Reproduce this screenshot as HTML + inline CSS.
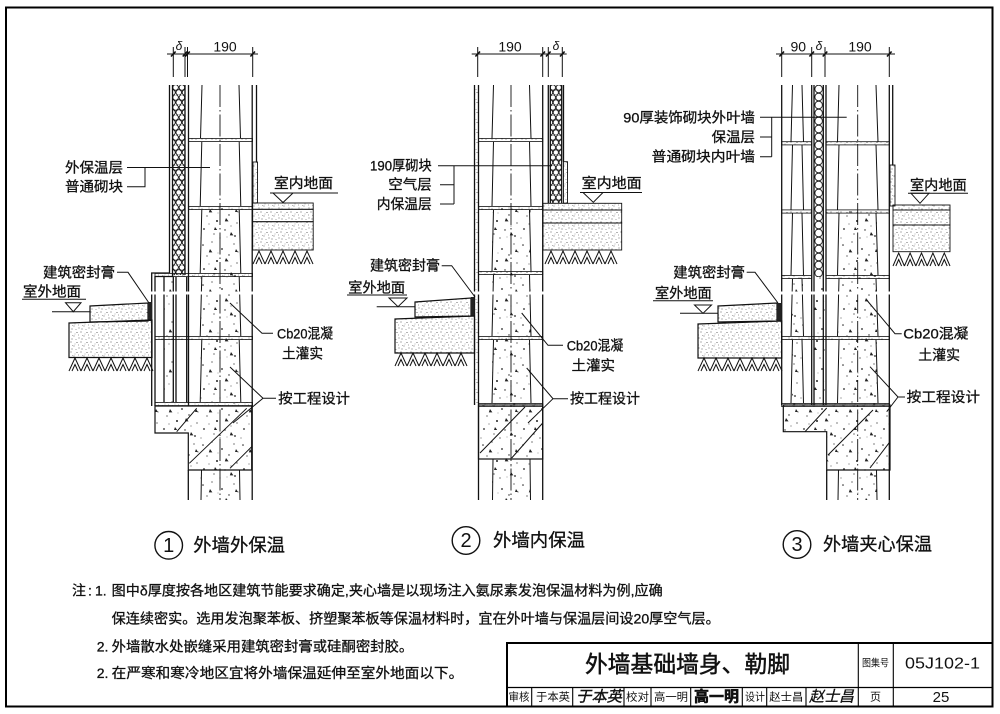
<!DOCTYPE html>
<html><head><meta charset="utf-8"><style>
html,body{margin:0;padding:0;background:#fff;}
svg{display:block;}
text{font-family:"Liberation Sans","Noto Sans CJK SC",sans-serif;fill:#111;}
.b text,.b{stroke:#111;stroke-width:.3;}
.l{stroke:#111;stroke-width:1.3;fill:none;}
.t{stroke:#111;stroke-width:1;fill:none;}
.j{fill:url(#apr);stroke:#111;stroke-width:.8;}
.dd{stroke:#111;stroke-width:.9;fill:none;stroke-dasharray:22 3 1.5 3;}
.tk{stroke:#111;stroke-width:1.6;fill:none;}
</style></head><body>
<svg width="1000" height="714" viewBox="0 0 1000 714" xmlns="http://www.w3.org/2000/svg">
<defs>
<pattern id="conc" width="40" height="40" patternUnits="userSpaceOnUse">
<g fill="#222">
<circle cx="3" cy="5" r=".8"/><circle cx="12" cy="2" r=".6"/><circle cx="22" cy="9" r=".9"/><circle cx="34" cy="4" r=".6"/><circle cx="7" cy="16" r=".6"/><circle cx="17" cy="21" r="1"/><circle cx="29" cy="15" r=".7"/><circle cx="37" cy="23" r=".6"/><circle cx="4" cy="29" r=".9"/><circle cx="14" cy="34" r=".6"/><circle cx="25" cy="30" r=".7"/><circle cx="35" cy="36" r=".9"/><circle cx="20" cy="38" r=".6"/><circle cx="9" cy="24" r=".5"/><circle cx="31" cy="26" r=".5"/><circle cx="38" cy="12" r=".5"/><circle cx="1" cy="38" r=".5"/><circle cx="18" cy="13" r=".4"/><circle cx="27" cy="37" r=".4"/>
<path d="M26 18l2.6 3.4h-3.8z M10 9l2.4 3.4h-3.6z M31 32l2.4 3.4h-3.6z M15 27l2.2 3h-3.2z M36 9l2 3h-3z"/>
</g></pattern>
<pattern id="apr" width="10" height="10" patternUnits="userSpaceOnUse">
<g fill="#333"><circle cx="1" cy="2" r=".5"/><circle cx="4" cy="6" r=".45"/><circle cx="7" cy="2.5" r=".5"/><circle cx="9" cy="8" r=".45"/><circle cx="2" cy="9" r=".5"/><circle cx="6" cy="9.5" r=".4"/><circle cx="5" cy="4" r=".35"/><circle cx="8.5" cy="5" r=".4"/><circle cx="2.5" cy="5.5" r=".35"/></g>
</pattern>
<pattern id="hex1" x="172.5" y="85" width="12.5" height="10" patternUnits="userSpaceOnUse"><g fill="none" stroke="#111" stroke-width=".9"><circle cx="3.1" cy="2.5" r="2.8"/><circle cx="9.4" cy="2.5" r="2.8"/><circle cx="0" cy="7.5" r="2.8"/><circle cx="6.25" cy="7.5" r="2.8"/><circle cx="12.5" cy="7.5" r="2.8"/></g></pattern>
<pattern id="hex2" x="550" y="85" width="11.7" height="10" patternUnits="userSpaceOnUse"><g fill="none" stroke="#111" stroke-width=".9"><circle cx="2.9" cy="2.5" r="2.7"/><circle cx="8.8" cy="2.5" r="2.7"/><circle cx="0" cy="7.5" r="2.7"/><circle cx="5.85" cy="7.5" r="2.7"/><circle cx="11.7" cy="7.5" r="2.7"/></g></pattern>
<pattern id="hex3" x="814" y="85" width="9.3" height="8" patternUnits="userSpaceOnUse"><circle cx="4.65" cy="4" r="3.8" fill="none" stroke="#111" stroke-width=".9"/></pattern>
</defs>

<!-- frame -->
<rect x="6" y="7.5" width="986.5" height="699" fill="none" stroke="#000" stroke-width="2"/>

<!-- ================= DIAGRAM 1 ================= -->
<g class="t"><line x1="167" y1="54" x2="258" y2="54"/><path d="M173.3 47V77M185 47V77M187.5 47V77M252.7 47V77"/></g>
<path class="tk" d="M171 56.5L175.6 51.5M182.7 56.5L187.3 51.5M185.2 56.5L189.8 51.5M250.4 56.5L255 51.5"/>
<text x="179" y="46" font-size="12" font-style="italic" text-anchor="middle" dominant-baseline="central">δ</text>
<text x="225" y="46.7" font-size="14" text-anchor="middle" dominant-baseline="central">190</text>

<rect x="172.5" y="85" width="12.5" height="190" fill="url(#hex1)"/>
<rect x="200.5" y="208" width="40" height="196" fill="url(#conc)"/>
<rect x="200.5" y="470" width="40" height="30" fill="url(#conc)"/>
<rect x="164" y="276" width="9.3" height="128" fill="url(#conc)"/>
<path d="M155 406H251.7V470H188.3V433H155Z" fill="url(#conc)" stroke="#111" stroke-width="1.2"/>
<path class="t" d="M176.7 431.7L196.7 408.3M189.3 463.3L246.7 408.3M230 468.3L251.7 446.7"/>
<rect x="253" y="162" width="4.5" height="41" fill="url(#apr)" stroke="#111" stroke-width=".9"/>
<rect x="252.7" y="203" width="60.5" height="6.3" fill="url(#apr)" stroke="#111" stroke-width=".9"/>
<rect x="252.7" y="209.3" width="60.5" height="12.4" fill="url(#apr)" stroke="#111" stroke-width=".9"/>
<rect x="252.7" y="221.7" width="60.5" height="28.3" fill="url(#apr)" stroke="#111" stroke-width=".9"/>
<path class="t" d="M253 264l6-13l6 13m-9 0l3-6.5l3 6.5m3 0l6-13l6 13m-9 0l3-6.5l3 6.5m3 0l6-13l6 13m-9 0l3-6.5l3 6.5m3 0l6-13l6 13m-9 0l3-6.5l3 6.5m3 0l6-13l6 13m-9 0l3-6.5l3 6.5m3 0"/>

<g class="l">
<path d="M169.5 85V273H151.7V406"/>
<path d="M172.5 85V276.5H155V406"/>
<path d="M185 85V275"/>
<path d="M188.5 85V406M188.3 470V500"/>
<path d="M252.2 85V500"/>
<path d="M256.5 85V162"/>
<path d="M164 276.6V402.4M173.3 276.6V402.4M176 276.6V402.4M186.7 276.6V402.4"/>
</g>
<path class="t" d="M202 85L200.5 138.4M201.8 141.6L200.2 206.4M201.8 209.6L200.2 273.4M201.8 276.6L200.2 336.4M201.8 339.6L200.2 402.4M201.5 470L201 500M239 85L240.5 138.4M239.2 141.6L240.8 206.4M239.2 209.6L240.8 273.4M239.2 276.6L240.8 336.4M239.2 339.6L240.8 402.4M239.5 470L240 500"/>
<line class="dd" x1="220" y1="85" x2="220" y2="500"/>
<rect class="j" x="188.5" y="138.4" width="64" height="3.2"/>
<rect class="j" x="188.5" y="206.4" width="64" height="3.2"/>
<rect class="j" x="155" y="273.4" width="97.5" height="3.2"/>
<rect class="j" x="155" y="336.4" width="97.5" height="3.2"/>
<rect class="j" x="155" y="402.4" width="97.5" height="3.2"/>
<rect x="149" y="291.5" width="110" height="3" fill="#fff"/>

<path d="M90 306L148 303V321L90 322Z" fill="url(#apr)" stroke="#111" stroke-width="1.2"/>
<rect x="148" y="302" width="4" height="19" fill="#222"/>
<path d="M69 323L152 320V357.5H69Z" fill="url(#apr)" stroke="#111" stroke-width="1.2"/>
<path class="t" d="M69 371l6-13l6 13m-9 0l3-6.5l3 6.5m3 0l6-13l6 13m-9 0l3-6.5l3 6.5m3 0l6-13l6 13m-9 0l3-6.5l3 6.5m3 0l6-13l6 13m-9 0l3-6.5l3 6.5m3 0l6-13l6 13m-9 0l3-6.5l3 6.5m3 0l6-13l6 13m-9 0l3-6.5l3 6.5m3 0l6-13l6 13m-9 0l3-6.5l3 6.5m3 0"/>
<g class="t"><path d="M52 311.7H90"/><path d="M65.5 302.7H81L73.3 311.7Z"/><path d="M22 299.3H86"/>
<path d="M270 193H338"/><path d="M273 193H293L283 202.5Z"/></g>

<g class="t">
<path d="M127 167.5H210M127 186.7H145V167.5"/>
<path d="M117 272.3H128L149 303"/>
<path d="M273 333.3H262L230 303"/>
<path d="M276 398.3H263L230 367M263 398.3L233 423"/>
</g>
<g class="b" font-size="14" dominant-baseline="central">
<text x="65" y="167.5" textLength="58" lengthAdjust="spacingAndGlyphs">外保温层</text>
<text x="65" y="186.7" textLength="58" lengthAdjust="spacingAndGlyphs">普通砌块</text>
<text x="274" y="183" textLength="59" lengthAdjust="spacingAndGlyphs">室内地面</text>
<text x="43" y="272.3" textLength="72" lengthAdjust="spacingAndGlyphs">建筑密封膏</text>
<text x="23" y="291.5" textLength="58" lengthAdjust="spacingAndGlyphs">室外地面</text>
<text x="277" y="333.3" textLength="56" lengthAdjust="spacingAndGlyphs">Cb20混凝</text>
<text x="282" y="353.7" textLength="41" lengthAdjust="spacingAndGlyphs">土灌实</text>
<text x="278.3" y="398.3" textLength="71.7" lengthAdjust="spacingAndGlyphs">按工程设计</text>
</g>

<!-- ================= DIAGRAM 2 ================= -->
<g class="t"><line x1="471.7" y1="54" x2="566.7" y2="54"/><path d="M477.7 47V77M542.7 47V77M548.3 47V77M562.3 47V77"/></g>
<path class="tk" d="M475.4 56.5L480 51.5M540.4 56.5L545 51.5M546 56.5L550.6 51.5M560 56.5L564.6 51.5"/>
<text x="510" y="46.7" font-size="14" text-anchor="middle" dominant-baseline="central">190</text>
<text x="556" y="46" font-size="12" font-style="italic" text-anchor="middle" dominant-baseline="central">δ</text>

<rect x="474.5" y="85" width="4" height="320" fill="url(#apr)"/>
<rect x="550" y="85" width="11.7" height="118" fill="url(#hex2)"/>
<rect x="492" y="208" width="38.5" height="197" fill="url(#conc)"/>
<rect x="492" y="459" width="38.5" height="41" fill="url(#conc)"/>
<rect x="478.5" y="405" width="64.2" height="54" fill="url(#conc)" stroke="#111" stroke-width="1.2"/>
<path class="t" d="M480 453L525 407M511.7 458L542.7 423"/>
<rect x="563.5" y="161.7" width="4" height="41.5" fill="url(#apr)" stroke="#111" stroke-width=".9"/>
<rect x="543" y="203.3" width="78.7" height="6.7" fill="url(#apr)" stroke="#111" stroke-width=".9"/>
<rect x="543" y="210" width="78.7" height="13" fill="url(#apr)" stroke="#111" stroke-width=".9"/>
<rect x="543" y="223" width="78.7" height="27" fill="url(#apr)" stroke="#111" stroke-width=".9"/>
<path class="t" d="M545 264l6-13l6 13m-9 0l3-6.5l3 6.5m3 0l6-13l6 13m-9 0l3-6.5l3 6.5m3 0l6-13l6 13m-9 0l3-6.5l3 6.5m3 0l6-13l6 13m-9 0l3-6.5l3 6.5m3 0l6-13l6 13m-9 0l3-6.5l3 6.5m3 0l6-13l6 13m-9 0l3-6.5l3 6.5m3 0"/>

<g class="l">
<path d="M474.5 85V405"/>
<path d="M478.5 85V500"/>
<path d="M542.7 85V500"/>
<path d="M548.3 85V203"/>
<path d="M550.3 85V203M561.7 85V203"/>
<path d="M563.5 85V161.7"/>
</g>
<path class="t" d="M493.5 85L492 138.4M493.5 141.6L492 206.4M493.5 209.6L492 271.4M493.5 274.6L492 336.4M493.5 339.6L492 403.4M493 459L492.5 500M529.5 85L531 138.4M529.5 141.6L531 206.4M529.5 209.6L531 271.4M529.5 274.6L531 336.4M529.5 339.6L531 403.4M530 459L530.5 500"/>
<line class="dd" x1="511" y1="85" x2="511" y2="500"/>
<rect class="j" x="478.5" y="138.4" width="64.2" height="3.2"/>
<rect class="j" x="478.5" y="206.4" width="64.2" height="3.2"/>
<rect class="j" x="478.5" y="271.4" width="64.2" height="3.2"/>
<rect class="j" x="478.5" y="336.4" width="64.2" height="3.2"/>
<rect class="j" x="478.5" y="403.4" width="64.2" height="3.2"/>
<rect x="472" y="291.5" width="74" height="3" fill="#fff"/>

<path d="M415 302L471 298V316L415 317Z" fill="url(#apr)" stroke="#111" stroke-width="1.2"/>
<rect x="471" y="297" width="3.5" height="18.5" fill="#222"/>
<path d="M395 319L474.5 316V353H395Z" fill="url(#apr)" stroke="#111" stroke-width="1.2"/>
<path class="t" d="M395 366l6-13l6 13m-9 0l3-6.5l3 6.5m3 0l6-13l6 13m-9 0l3-6.5l3 6.5m3 0l6-13l6 13m-9 0l3-6.5l3 6.5m3 0l6-13l6 13m-9 0l3-6.5l3 6.5m3 0l6-13l6 13m-9 0l3-6.5l3 6.5m3 0l6-13l6 13m-9 0l3-6.5l3 6.5m3 0"/>
<g class="t"><path d="M376.7 306.7H415"/><path d="M389 298H407L398 306.7Z"/><path d="M347 295H407"/>
<path d="M580 192.5H642"/><path d="M583 192.5H603L593.3 202.3Z"/></g>

<g class="t">
<path d="M438 165.7H552"/>
<path d="M440 184.7H454M440 204H454M454 165.7V204"/>
<path d="M441.7 265.7H451.7L475 297"/>
<path d="M563 345.3H548L521.7 313"/>
<path d="M568 398.7H553L526.7 368M553 398.7L528 423"/>
</g>
<g class="b" font-size="14" dominant-baseline="central">
<text x="370" y="165.7" textLength="61.7" lengthAdjust="spacingAndGlyphs">190厚砌块</text>
<text x="388.3" y="184.7" textLength="43.4" lengthAdjust="spacingAndGlyphs">空气层</text>
<text x="376.7" y="204" textLength="55" lengthAdjust="spacingAndGlyphs">内保温层</text>
<text x="581.7" y="183" textLength="60" lengthAdjust="spacingAndGlyphs">室内地面</text>
<text x="370" y="265.7" textLength="70" lengthAdjust="spacingAndGlyphs">建筑密封膏</text>
<text x="348.3" y="287.3" textLength="56.7" lengthAdjust="spacingAndGlyphs">室外地面</text>
<text x="566.7" y="345.3" textLength="56.6" lengthAdjust="spacingAndGlyphs">Cb20混凝</text>
<text x="571.7" y="365.3" textLength="43.3" lengthAdjust="spacingAndGlyphs">土灌实</text>
<text x="570" y="398.7" textLength="70" lengthAdjust="spacingAndGlyphs">按工程设计</text>
</g>

<!-- ================= DIAGRAM 3 ================= -->
<g class="t"><line x1="776" y1="54" x2="895" y2="54"/><path d="M781.7 47V77M811.7 47V77M825 47V77M889.3 47V77"/></g>
<path class="tk" d="M779.4 56.5L784 51.5M809.4 56.5L814 51.5M822.7 56.5L827.3 51.5M887 56.5L891.6 51.5"/>
<text x="798.3" y="46.7" font-size="14" text-anchor="middle" dominant-baseline="central">90</text>
<text x="819" y="46" font-size="12" font-style="italic" text-anchor="middle" dominant-baseline="central">δ</text>
<text x="860" y="46.7" font-size="14" text-anchor="middle" dominant-baseline="central">190</text>

<rect x="814" y="85" width="9.3" height="192" fill="url(#hex3)"/>
<rect x="813" y="277" width="12" height="128" fill="url(#conc)"/>
<rect x="792" y="277" width="11" height="128" fill="url(#conc)"/>
<rect x="838" y="211.5" width="39" height="193.5" fill="url(#conc)"/>
<rect x="838" y="470" width="39" height="30" fill="url(#conc)"/>
<path d="M783.3 405H890V470H826.7V431.7H783.3Z" fill="url(#conc)" stroke="#111" stroke-width="1.2"/>
<path class="t" d="M805 431.7L826.7 408M828 455L873 410M870 468L890 441.7"/>
<rect x="890" y="165" width="5" height="41" fill="url(#apr)" stroke="#111" stroke-width=".9"/>
<rect x="893" y="205" width="57" height="5" fill="url(#apr)" stroke="#111" stroke-width=".9"/>
<rect x="893" y="210" width="57" height="15" fill="url(#apr)" stroke="#111" stroke-width=".9"/>
<rect x="893" y="225" width="57" height="26.7" fill="url(#apr)" stroke="#111" stroke-width=".9"/>
<path class="t" d="M893 266l5.7-13l5.7 13m-8.55 0l2.85-6.5l2.85 6.5m2.85 0l5.7-13l5.7 13m-8.55 0l2.85-6.5l2.85 6.5m2.85 0l5.7-13l5.7 13m-8.55 0l2.85-6.5l2.85 6.5m2.85 0l5.7-13l5.7 13m-8.55 0l2.85-6.5l2.85 6.5m2.85 0l5.7-13l5.7 13m-8.55 0l2.85-6.5l2.85 6.5m2.85 0"/>

<g class="l">
<path d="M781.7 85V405"/>
<path d="M811.7 85V405"/>
<path d="M814 85V405M823.3 85V405"/>
<path d="M826 85V405M826.7 470V500"/>
<path d="M889.3 85V500"/>
<path d="M892.7 85V165"/>
</g>
<path class="t" d="M792.5 85L791 141.7M792.5 144.9L791 209.9M792.5 213.1L791 275.4M792.5 278.6L791 336.4M792.5 339.6L791 403.4M802 85L803.5 141.7M802 144.9L803.5 209.9M802 213.1L803.5 275.4M802 278.6L803.5 336.4M802 339.6L803.5 403.4"/>
<path class="t" d="M839 85L837.5 141.7M839 144.9L837.5 209.9M839 213.1L837.5 275.4M839 278.6L837.5 336.4M839 339.6L837.5 403.4M838.5 470L838 500M876 85L878 141.7M876 144.9L878 209.9M876 213.1L878 275.4M876 278.6L878 336.4M876 339.6L878 403.4M876.5 470L877 500"/>
<line class="dd" x1="857.7" y1="85" x2="857.7" y2="500"/>
<rect class="j" x="781.7" y="141.7" width="30" height="3.2"/><rect class="j" x="826" y="141.7" width="63.3" height="3.2"/>
<rect class="j" x="781.7" y="209.9" width="30" height="3.2"/><rect class="j" x="826" y="209.9" width="63.3" height="3.2"/>
<rect class="j" x="781.7" y="275.4" width="30" height="3.2"/><rect class="j" x="826" y="275.4" width="63.3" height="3.2"/>
<rect class="j" x="781.7" y="336.4" width="107.6" height="3.2"/>
<rect class="j" x="781.7" y="403.4" width="107.6" height="3.2"/>
<rect x="779" y="291.5" width="113" height="3" fill="#fff"/>

<path d="M718 306L777 303V321L718 322Z" fill="url(#apr)" stroke="#111" stroke-width="1.2"/>
<rect x="777" y="303" width="4.7" height="17.5" fill="#222"/>
<path d="M698 324L781.7 321V358H698Z" fill="url(#apr)" stroke="#111" stroke-width="1.2"/>
<path class="t" d="M698 371l6-13l6 13m-9 0l3-6.5l3 6.5m3 0l6-13l6 13m-9 0l3-6.5l3 6.5m3 0l6-13l6 13m-9 0l3-6.5l3 6.5m3 0l6-13l6 13m-9 0l3-6.5l3 6.5m3 0l6-13l6 13m-9 0l3-6.5l3 6.5m3 0l6-13l6 13m-9 0l3-6.5l3 6.5m3 0l6-13l6 13m-9 0l3-6.5l3 6.5m3 0"/>
<g class="t"><path d="M680 313.3H718"/><path d="M694.5 305H711.5L703 313.3Z"/><path d="M653 300.7H713"/>
<path d="M908 193.3H968"/><path d="M911 193.3H929L920 203.3Z"/></g>

<g class="t">
<path d="M760 117.3H846.7"/>
<path d="M760 137H771.7M760 156.7H771.7M771.7 117.3V156.7"/>
<path d="M746.7 272.3H755L778 303"/>
<path d="M901.7 333.7H895L866.7 300"/>
<path d="M905 397H898L870 366.7M898 397L886.7 411.7"/>
</g>
<g class="b" font-size="14" dominant-baseline="central">
<text x="623.3" y="117.3" textLength="131.7" lengthAdjust="spacingAndGlyphs">90厚装饰砌块外叶墙</text>
<text x="711.7" y="137" textLength="43.3" lengthAdjust="spacingAndGlyphs">保温层</text>
<text x="651.7" y="156.7" textLength="103.3" lengthAdjust="spacingAndGlyphs">普通砌块内叶墙</text>
<text x="910" y="185" textLength="56.7" lengthAdjust="spacingAndGlyphs">室内地面</text>
<text x="673.3" y="272.3" textLength="71.7" lengthAdjust="spacingAndGlyphs">建筑密封膏</text>
<text x="655" y="293" textLength="56.7" lengthAdjust="spacingAndGlyphs">室外地面</text>
<text x="903.3" y="333.7" textLength="65" lengthAdjust="spacingAndGlyphs">Cb20混凝</text>
<text x="918.3" y="355" textLength="41.7" lengthAdjust="spacingAndGlyphs">土灌实</text>
<text x="906.7" y="397" textLength="73.3" lengthAdjust="spacingAndGlyphs">按工程设计</text>
</g>

<!-- ================= CAPTIONS ================= -->
<g fill="none" stroke="#111" stroke-width="1.4">
<circle cx="168.7" cy="545.3" r="13.8"/>
<circle cx="466" cy="540.5" r="13.8"/>
<circle cx="797" cy="544.5" r="13.8"/>
</g>
<g font-size="20" text-anchor="middle" dominant-baseline="central">
<text x="168.7" y="546">1</text>
<text x="466" y="541.2">2</text>
<text x="797" y="545.2">3</text>
</g>
<g class="b" font-size="18" dominant-baseline="central">
<text x="193.3" y="545.3" textLength="91.7" lengthAdjust="spacingAndGlyphs">外墙外保温</text>
<text x="493" y="540.5" textLength="92" lengthAdjust="spacingAndGlyphs">外墙内保温</text>
<text x="823" y="544.5" textLength="109" lengthAdjust="spacingAndGlyphs">外墙夹心保温</text>
</g>

<!-- ================= NOTES ================= -->
<g class="b" font-size="14" dominant-baseline="central">
<text x="72" y="590.7">注</text>
<text x="88" y="590.7">:</text>
<text x="95" y="590.7">1.</text>
<text x="111.7" y="590.7" textLength="551" lengthAdjust="spacingAndGlyphs">图中δ厚度按各地区建筑节能要求确定,夹心墙是以现场注入氨尿素发泡保温材料为例,应确</text>
<text x="111.7" y="618.3" textLength="608" lengthAdjust="spacingAndGlyphs">保连续密实。选用发泡聚苯板、挤塑聚苯板等保温材料时，宜在外叶墙与保温层间设20厚空气层。</text>
<text x="96.7" y="646.3">2.</text>
<text x="111.7" y="646.3" textLength="301.6" lengthAdjust="spacingAndGlyphs">外墙散水处嵌缝采用建筑密封膏或硅酮密封胶。</text>
<text x="96.7" y="673">2.</text>
<text x="111.7" y="673" textLength="351.6" lengthAdjust="spacingAndGlyphs">在严寒和寒冷地区宜将外墙保温延伸至室外地面以下。</text>
</g>

<!-- ================= TITLE BLOCK ================= -->
<path d="M507 707V643H992" fill="none" stroke="#000" stroke-width="2"/>
<line x1="507" y1="687.5" x2="992" y2="687.5" stroke="#000" stroke-width="1.3"/>
<g stroke="#000" stroke-width="1.1">
<path d="M531.7 687.5V707M572.7 687.5V707M624 687.5V707M651 687.5V707M690.7 687.5V707M742.3 687.5V707M766.7 687.5V707M806 687.5V707"/>
<path d="M858.3 643V707M893.3 643V707"/>
</g>
<text x="585" y="664" font-size="23" dominant-baseline="central" textLength="205" lengthAdjust="spacingAndGlyphs" stroke="#111" stroke-width=".5">外墙基础墙身、勒脚</text>
<text x="862" y="664" font-size="10" dominant-baseline="central" textLength="27" lengthAdjust="spacingAndGlyphs">图集号</text>
<text x="905" y="664" font-size="16" dominant-baseline="central" textLength="75" lengthAdjust="spacingAndGlyphs">05J102-1</text>
<g font-size="11" dominant-baseline="central">
<text x="508.5" y="697.3" textLength="21" lengthAdjust="spacingAndGlyphs">审核</text>
<text x="536" y="697.3" textLength="34" lengthAdjust="spacingAndGlyphs">于本英</text>
<text x="626" y="697.3" textLength="23" lengthAdjust="spacingAndGlyphs">校对</text>
<text x="654" y="697.3" textLength="34" lengthAdjust="spacingAndGlyphs">高一明</text>
<text x="745" y="697.3" textLength="20" lengthAdjust="spacingAndGlyphs">设计</text>
<text x="769.3" y="697.3" textLength="34" lengthAdjust="spacingAndGlyphs">赵士昌</text>
<text x="870" y="697.3">页</text>
</g>
<text x="941" y="697.3" font-size="15" text-anchor="middle" dominant-baseline="central">25</text>
<g dominant-baseline="central">
<text x="576" y="697" font-size="15" font-style="italic" stroke="#111" stroke-width=".4" textLength="46" lengthAdjust="spacingAndGlyphs">于本英</text>
<text x="694" y="697" font-size="15" font-weight="bold" stroke="#111" stroke-width=".6" textLength="45" lengthAdjust="spacingAndGlyphs">高一明</text>
<text x="809" y="697" font-size="15" font-style="italic" stroke="#111" stroke-width=".3" textLength="45" lengthAdjust="spacingAndGlyphs">赵士昌</text>
</g>
</svg>
</body></html>
